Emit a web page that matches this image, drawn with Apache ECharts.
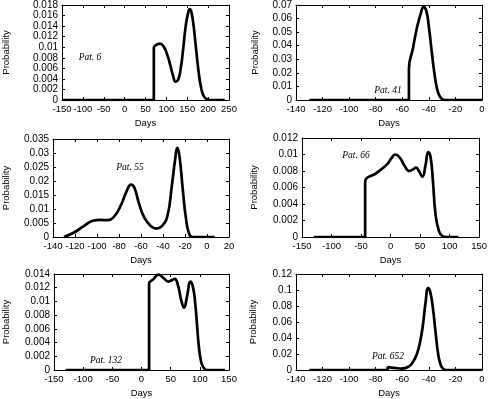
<!DOCTYPE html>
<html>
<head>
<meta charset="utf-8">
<script src="https://cdn.jsdelivr.net/npm/echarts@6/dist/echarts.min.js"></script>
<style>
  html, body { margin: 0; padding: 0; background: #fff; }
  #chart { width: 490px; height: 399px; }
</style>
</head>
<body>
<div id="chart"></div>
<script>
  // probability curves per patient (days, probability)
  var days6 = [-148, 70, 70, 75, 84, 93, 102, 110, 116, 122, 128, 134, 140, 146, 152, 156, 160, 165, 171, 177, 183, 189, 196, 205, 240];
  var prob6 = [0, 0, 0.0099, 0.0104, 0.0107, 0.0102, 0.0086, 0.0064, 0.0046, 0.0035, 0.0038, 0.0058, 0.0095, 0.0138, 0.0165, 0.0172, 0.0166, 0.0142, 0.0098, 0.0055, 0.0024, 0.0008, 0.0002, 0, 0];

  var days41 = [-130, -55, -55, -52, -49, -46, -44, -42, -40, -38, -36, -34, -32, -30, -28, 0];
  var prob41 = [0, 0, 0.023, 0.038, 0.053, 0.064, 0.0685, 0.066, 0.054, 0.037, 0.021, 0.009, 0.003, 0.0007, 0, 0];

  var days55 = [-130, -120, -112, -103, -97, -90, -84, -78, -73, -69, -66, -62, -57, -51, -46, -41, -36, -32, -29, -27, -25, -22, -19, -16, -13, 7];
  var prob55 = [0, 0.0018, 0.0039, 0.0059, 0.0061, 0.0060, 0.0075, 0.0116, 0.0164, 0.0187, 0.0176, 0.0122, 0.0069, 0.0039, 0.0030, 0.0039, 0.0075, 0.0182, 0.0276, 0.0318, 0.0288, 0.0169, 0.0063, 0.0009, 0, 0];

  var days66 = [-130, -43, -43, -23, -6, 2, 8, 16, 24, 32, 38, 43, 48, 54, 59, 64, 68, 72, 76, 82, 88, 95, 115];
  var prob66 = [0, 0, 0.0066, 0.0078, 0.0088, 0.0096, 0.0100, 0.0096, 0.0086, 0.0080, 0.0082, 0.0084, 0.0080, 0.0073, 0.0086, 0.0103, 0.0096, 0.0066, 0.0029, 0.0007, 0.0001, 0, 0];

  var days132 = [-130, 13, 13, 20, 29, 38, 46, 52, 57, 63, 68, 73, 78, 84, 88, 92, 95, 98, 102, 106, 112, 143];
  var prob132 = [0, 0, 0.0126, 0.0132, 0.0139, 0.0134, 0.0129, 0.0131, 0.0133, 0.0122, 0.0102, 0.0091, 0.0107, 0.0129, 0.0122, 0.0098, 0.0068, 0.0037, 0.0013, 0.0004, 0, 0];

  var days652 = [-130, -71, -71, -66, -60, -55, -52, -49, -46.5, -44.5, -42.5, -40.5, -39, -37, -35, -33, -31, -29, -27, 0];
  var prob652 = [0, 0, 0.0035, 0.0026, 0.0018, 0.0045, 0.010, 0.020, 0.036, 0.056, 0.084, 0.1025, 0.098, 0.078, 0.048, 0.020, 0.006, 0.0012, 0, 0];

  // axis ranges [min, max, step]
  var xRange6 = [-150, 250, 50],   yRange6 = [0, 0.018, 0.002];
  var xRange41 = [-140, 0, 20],    yRange41 = [0, 0.07, 0.01];
  var xRange55 = [-140, 20, 20],   yRange55 = [0, 0.035, 0.005];
  var xRange66 = [-150, 150, 50],  yRange66 = [0, 0.012, 0.002];
  var xRange132 = [-150, 150, 50], yRange132 = [0, 0.014, 0.002];
  var xRange652 = [-140, 0, 20],   yRange652 = [0, 0.12, 0.02];

  var panels = [
    {label: 'Pat. 6',   days: days6,   prob: prob6,   xr: xRange6,   yr: yRange6,   box: [57, 3, 172, 97],   yGap: 51, tx: 90,  ty: 57},
    {label: 'Pat. 41',  days: days41,  prob: prob41,  xr: xRange41,  yr: yRange41,  box: [296, 3, 186, 97],  yGap: 36, tx: 388, ty: 90},
    {label: 'Pat. 55',  days: days55,  prob: prob55,  xr: xRange55,  yr: yRange55,  box: [48, 139, 181, 98], yGap: 42, tx: 130, ty: 167},
    {label: 'Pat. 66',  days: days66,  prob: prob66,  xr: xRange66,  yr: yRange66,  box: [302, 138, 180, 99], yGap: 43, tx: 356, ty: 155},
    {label: 'Pat. 132', days: days132, prob: prob132, xr: xRange132, yr: yRange132, box: [48, 274, 181, 99], yGap: 43, tx: 106, ty: 360},
    {label: 'Pat. 652', days: days652, prob: prob652, xr: xRange652, yr: yRange652, box: [296, 274, 186, 99], yGap: 38, tx: 388, ty: 356}
  ];

  var font = 'Liberation Sans';
  var axisLine = {show: true, onZero: false, lineStyle: {color: '#000', width: 1}};
  var tick = {show: true, inside: true, length: 3, lineStyle: {color: '#000'}};

  var grids = [], xAxes = [], yAxes = [], series = [], graphics = [];

  panels.forEach(function (p, i) {
    grids.push({left: p.box[0], top: p.box[1], width: p.box[2], height: p.box[3], containLabel: false});
    // bottom axis with labels, top axis as a mirror
    xAxes.push({
      type: 'value', gridIndex: i, position: 'bottom',
      min: p.xr[0], max: p.xr[1], interval: p.xr[2],
      name: 'Days', nameLocation: 'middle', nameGap: 18,
      nameTextStyle: {fontFamily: font, fontSize: 9.5, color: '#000'},
      axisLine: axisLine, axisTick: tick, splitLine: {show: false},
      axisLabel: {fontFamily: font, fontSize: 9.5, color: '#000', margin: 4,
                  showMinLabel: true, showMaxLabel: true, hideOverlap: false}
    });
    xAxes.push({
      type: 'value', gridIndex: i, position: 'top',
      min: p.xr[0], max: p.xr[1], interval: p.xr[2],
      axisLine: axisLine, axisTick: tick, splitLine: {show: false},
      axisLabel: {show: false}
    });
    yAxes.push({
      type: 'value', gridIndex: i, position: 'left',
      min: p.yr[0], max: p.yr[1], interval: p.yr[2],
      name: 'Probability', nameLocation: 'middle', nameGap: p.yGap,
      nameTextStyle: {fontFamily: font, fontSize: 9.5, color: '#000'},
      axisLine: axisLine, axisTick: tick, splitLine: {show: false},
      axisLabel: {fontFamily: font, fontSize: 10, color: '#000', margin: 4,
                  showMinLabel: true, showMaxLabel: true, hideOverlap: false}
    });
    yAxes.push({
      type: 'value', gridIndex: i, position: 'right',
      min: p.yr[0], max: p.yr[1], interval: p.yr[2],
      axisLine: axisLine, axisTick: tick, splitLine: {show: false},
      axisLabel: {show: false}
    });
    series.push({
      type: 'line',
      xAxisIndex: i * 2, yAxisIndex: i * 2,
      data: p.days.map(function (d, k) { return [d, p.prob[k]]; }),
      showSymbol: false, smooth: 0.5,
      lineStyle: {color: '#000', width: 2.7},
      silent: true, animation: false
    });
    graphics.push({
      type: 'text', x: p.tx, y: p.ty,
      style: {
        text: p.label, fill: '#000',
        font: 'italic 9.5px "Liberation Serif"',
        align: 'center', verticalAlign: 'middle'
      }
    });
  });

  var myChart = echarts.init(document.getElementById('chart'));
  myChart.setOption({
    animation: false,
    grid: grids,
    xAxis: xAxes,
    yAxis: yAxes,
    series: series,
    graphic: graphics
  });
</script>
</body>
</html>
